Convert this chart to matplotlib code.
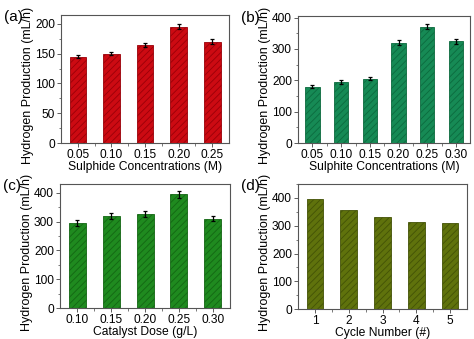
import matplotlib.pyplot as plt
from matplotlib.ticker import AutoMinorLocator
import numpy as np

plt.rcParams['font.family'] = ['Liberation Sans', 'DejaVu Sans']
plt.rcParams['hatch.linewidth'] = 0.6

sulphide_conc = ["0.05", "0.10", "0.15", "0.20", "0.25"]
sulphide_h2 = [145, 150, 165, 195, 170]
sulphide_err = [3, 3, 3, 4, 4]

sulphite_conc = ["0.05", "0.10", "0.15", "0.20", "0.25", "0.30"]
sulphite_h2 = [180, 195, 205, 320, 370, 325]
sulphite_err = [5, 6, 5, 7, 8, 8]

catalyst_dose = ["0.10", "0.15", "0.20", "0.25", "0.30"]
catalyst_h2 = [295, 320, 325, 395, 310]
catalyst_err = [10, 10, 10, 12, 9]

cycles = ["1", "2", "3", "4", "5"]
cycle_h2 = [395, 355, 330, 315, 310]

fig = plt.figure(figsize=(4.74, 3.39), dpi=100)

panels = [
    ([0.129, 0.578, 0.354, 0.378], sulphide_conc, sulphide_h2, sulphide_err,
     "#cc0a12", "#9a0008", 215, [0, 50, 100, 150, 200], "Sulphide Concentrations (M)", "(a)"),
    ([0.629, 0.578, 0.363, 0.375], sulphite_conc, sulphite_h2, sulphite_err,
     "#168a55", "#0c6a3e", 405, [0, 100, 200, 300, 400], "Sulphite Concentrations (M)", "(b)"),
    ([0.127, 0.091, 0.358, 0.366], catalyst_dose, catalyst_h2, catalyst_err,
     "#1f8a1f", "#136613", 430, [0, 100, 200, 300, 400], "Catalyst Dose (g/L)", "(c)"),
    ([0.629, 0.088, 0.356, 0.369], cycles, cycle_h2, None,
     "#5f720c", "#435206", 450, [0, 100, 200, 300, 400], "Cycle Number (#)", "(d)"),
]

for rect, cats, vals, errs, color, hatch_col, ymax, yticks, xlabel, tag in panels:
    ax = fig.add_axes(rect)
    x = np.arange(len(cats))
    ax.bar(x, vals, width=0.5, color=color, edgecolor=hatch_col,
           hatch="/////", linewidth=0.6)
    if errs is not None:
        ax.errorbar(x, vals, yerr=errs, fmt="none", ecolor="black",
                    elinewidth=0.9, capsize=1.5, capthick=0.9)
    ax.set_xlim(-0.5, len(cats) - 0.5)
    ax.set_ylim(0, ymax)
    ax.set_xticks(x)
    ax.set_xticklabels(cats)
    ax.set_yticks(yticks)
    ax.yaxis.set_minor_locator(AutoMinorLocator(2))
    ax.set_xticks(np.arange(len(cats) - 1) + 0.5, minor=True)
    ax.tick_params(axis="both", which="major", labelsize=8.6, length=3,
                   width=0.6, pad=1.5, color="#444444")
    ax.tick_params(axis="both", which="minor", length=1.8, width=0.5,
                   color="#444444")
    for s in ax.spines.values():
        s.set_color("#555555")
        s.set_linewidth(0.8)
    ax.set_xlabel(xlabel, fontsize=8.7, labelpad=0)
    ax.set_ylabel("Hydrogen Production (mL/h)", fontsize=9)
    ax.yaxis.set_label_coords(-27 / (rect[2] * 474), 0.45)
    fig.text(rect[0] - 0.12, rect[1] + rect[3] - 0.005, tag, fontsize=11,
             ha="left", va="center")

fig.savefig("out.png", dpi=100)
